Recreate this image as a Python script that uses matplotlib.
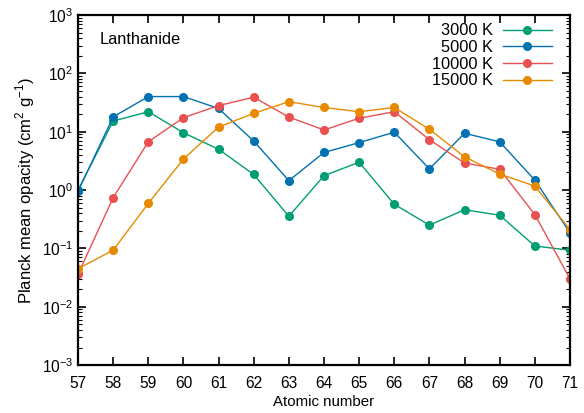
import numpy as np
import matplotlib.pyplot as plt
from matplotlib.ticker import LogLocator, NullFormatter

plt.rcParams['font.family'] = ['Liberation Sans', 'DejaVu Sans']
plt.rcParams['mathtext.fontset'] = 'custom'
plt.rcParams['mathtext.rm'] = 'Liberation Sans'

# atomic numbers of the lanthanides
z = [57, 58, 59, 60, 61, 62, 63, 64, 65, 66, 67, 68, 69, 70, 71]

# Planck mean opacity (cm^2 g^-1)
t3000 = [1.0, 15.2, 22, 9.6, 5.0, 1.85, 0.355, 1.76, 3.0, 0.57, 0.25, 0.46, 0.37, 0.11, 0.093]
t5000 = [0.95, 17.9, 40, 40, 25, 6.9, 1.45, 4.4, 6.5, 9.8, 2.3, 9.4, 6.7, 1.48, 0.185]
t10000 = [0.036, 0.74, 6.7, 17.4, 28, 39, 17.8, 10.7, 17, 22, 7.3, 2.9, 2.27, 0.38, 0.030]
t15000 = [0.045, 0.093, 0.59, 3.4, 12, 20.6, 32.7, 26, 22, 26, 11, 3.7, 1.88, 1.17, 0.21]

labels = ['3000 K', '5000 K', '10000 K', '15000 K']
colors = ['#009e73', '#0072b2', '#e8514f', '#e88a00']

fig = plt.figure(figsize=(5.84, 4.13), dpi=100)
ax = fig.add_axes([0.1336, 0.116, 0.8424, 0.8477])

for y, lab, c in zip([t3000, t5000, t10000, t15000], labels, colors):
    ax.plot(z, y, '-o', color=c, lw=1.0, ms=5.5, label=lab)

ax.set_yscale('log')
ax.set_ylim(1e-3, 1e3)
ax.set_xlim(57, 71)
ax.set_xticks(z)
ax.yaxis.set_major_locator(LogLocator(base=10, numticks=10))
ax.yaxis.set_minor_locator(LogLocator(base=10, subs=np.arange(2, 10), numticks=100))
ax.yaxis.set_minor_formatter(NullFormatter())

ax.tick_params(which='both', direction='in', top=True, right=True, labelsize=11.2)
ax.tick_params(which='major', length=6, width=1.2)
ax.tick_params(which='minor', length=3, width=0.8)
ax.tick_params(axis='x', pad=8)
for s in ax.spines.values():
    s.set_linewidth(1.6)

ax.set_xlabel('Atomic number', fontsize=10.8, labelpad=3)
ax.set_ylabel('Planck mean opacity (cm$^2$ g$^{-1}$)', fontsize=12, labelpad=3.5)
ax.text(0.043, 0.95, 'Lanthanide', transform=ax.transAxes, fontsize=11.8, va='top')

leg = ax.legend(loc='upper right', bbox_to_anchor=(0.9634, 0.976), markerfirst=False,
                frameon=False, fontsize=11.8, handlelength=3.0, labelspacing=0.1,
                borderaxespad=0, borderpad=0, handletextpad=0.62)
for t in leg.get_texts():
    t.set_ha('right')

fig.savefig('out.png', dpi=100)
